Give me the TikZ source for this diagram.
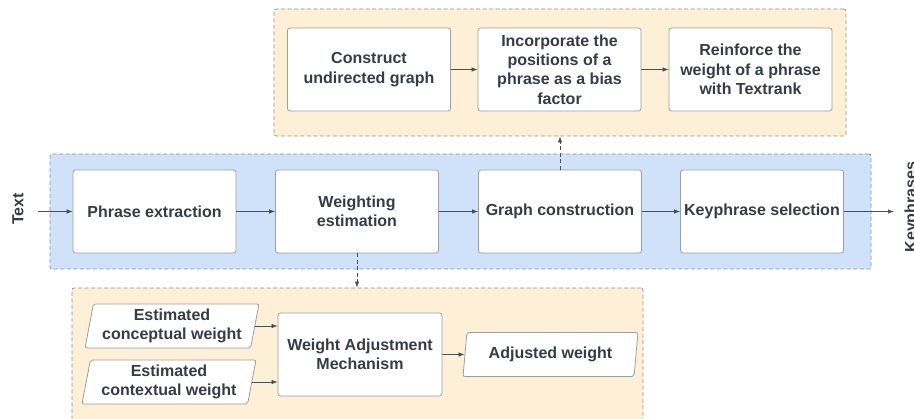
\documentclass[tikz,border=0pt]{standalone}
\usepackage{fontspec}
\setmainfont{Liberation Sans}
\usetikzlibrary{arrows.meta,shapes.geometric}
\definecolor{txtc}{HTML}{363C45}
\definecolor{orangebg}{HTML}{FDF0D7}
\definecolor{bluebg}{HTML}{CFE2F9}
\definecolor{dashc}{HTML}{8C9097}
\definecolor{boxc}{HTML}{9A9EA5}
\definecolor{arrc}{HTML}{4A4F57}
\tikzset{
  txtstyle/.style={text=txtc, font=\fontsize{16}{19.4}\selectfont\bfseries, align=center},
  container/.style={draw=dashc, dash pattern=on 4pt off 2.5pt, line width=0.8pt, rounded corners=2pt, inner sep=0pt},
  stepbox/.style={txtstyle, draw=boxc, fill=white, line width=0.8pt, rounded corners=2.5pt, minimum width=163pt, minimum height=83pt, inner sep=2pt},
  databox/.style={txtstyle, trapezium, trapezium left angle=77, trapezium right angle=103, trapezium stretches body, draw=boxc, fill=white, line width=0.8pt, rounded corners=2pt, minimum width=174pt, minimum height=44pt, inner sep=1pt},
  flow/.style={draw=arrc, line width=0.7pt, -{Latex[length=6pt,width=4.5pt]}},
  dflow/.style={flow, dash pattern=on 4pt off 2.5pt},
  label/.style={txtstyle, rotate=90}
}
\begin{document}
\begin{tikzpicture}[x=1pt,y=-1pt]
\useasboundingbox (0,0) rectangle (914,419);
% containers
\node[container, fill=orangebg, minimum width=572pt, minimum height=127pt] (topc) at (560,72.5) {};
\node[container, fill=bluebg, minimum width=821pt, minimum height=115pt] (mainc) at (460.5,211.5) {};
\node[container, fill=orangebg, minimum width=571pt, minimum height=142pt] (botc) at (357.5,359) {};
% top steps
\node[stepbox] (cu) at (369,69.5) {Construct\\undirected graph};
\node[stepbox] (ip) at (559.5,69.5) {Incorporate the\\positions of a\\phrase as a bias\\factor};
\node[stepbox] (rw) at (750.5,69.5) {Reinforce the\\weight of a phrase\\with Textrank};
% main steps
\node[stepbox] (pe) at (154.5,211.5) {Phrase extraction};
\node[stepbox] (we) at (357,211.5) {Weighting\\estimation};
\node[stepbox] (gc) at (560,211.5) {Graph construction};
\node[stepbox] (ks) at (762,211.5) {Keyphrase selection};
% bottom
\node[databox] (cw) at (172,326) {Estimated\\conceptual weight};
\node[databox] (xw) at (169,382) {Estimated\\contextual weight};
\node[stepbox, minimum width=164pt] (wam) at (360,354.5) {Weight Adjustment\\Mechanism};
\node[databox, minimum width=175pt] (aw) at (550.5,354.5) {Adjusted weight};
% labels
\node[label] (tx) at (18,209) {Text};
\node[label] (kp) at (912,207) {Keyphrases};
\coordinate (tin) at (38,211.5);
\coordinate (kout) at (894,211.5);
% connectors
\draw[flow] (tin) -- (pe.west);
\draw[flow] (pe) -- (we);
\draw[flow] (we) -- (gc);
\draw[flow] (gc) -- (ks);
\draw[flow] (ks.east) -- (kout);
\draw[flow] (cu) -- (ip);
\draw[flow] (ip) -- (rw);
\draw[dflow] (we.south) -- (we.south |- botc.north);
\draw[dflow] (gc.north) -- (gc.north |- topc.south);
\draw[flow] (cw.east) -- (cw.east -| wam.west);
\draw[flow] (xw.east) -- (xw.east -| wam.west);
\draw[flow] (wam.east) -- (aw.west);
\end{tikzpicture}
\end{document}
